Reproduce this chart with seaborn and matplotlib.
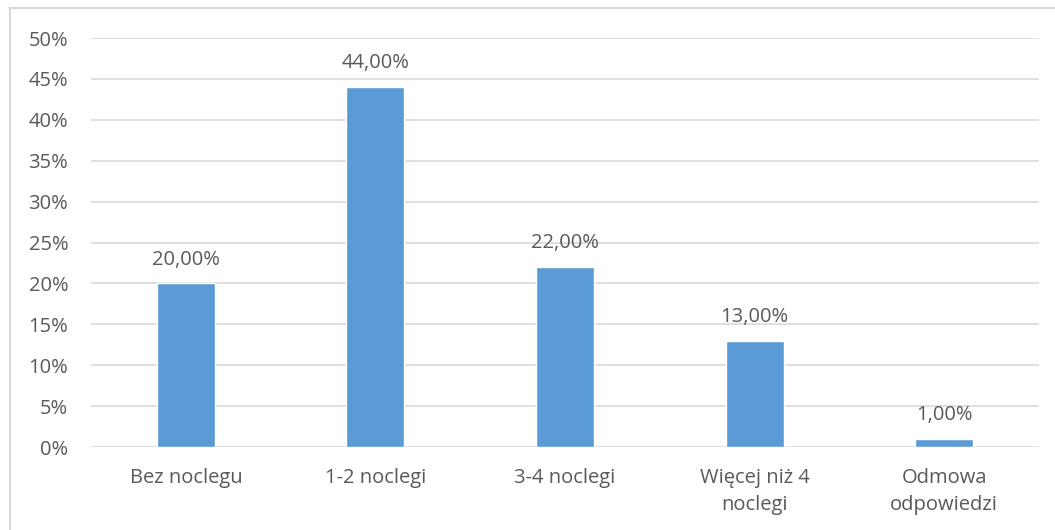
import matplotlib
matplotlib.use("Agg")
import matplotlib.pyplot as plt
import matplotlib.ticker as mticker
from matplotlib.patches import Rectangle
import seaborn as sns
import pandas as pd

categories = ["Bez noclegu", "1-2 noclegi", "3-4 noclegi", "Więcej niż 4\nnoclegi", "Odmowa\nodpowiedzi"]
values = [20.0, 44.0, 22.0, 13.0, 1.0]
value_labels = ["20,00%", "44,00%", "22,00%", "13,00%", "1,00%"]
y_ticks = [0, 5, 10, 15, 20, 25, 30, 35, 40, 45, 50]

sns.set_theme(style="white")
plt.rcParams["font.family"] = ["Open Sans", "DejaVu Sans"]

text_color = "#595959"
grid_color = "#D9D9D9"
bar_color = "#5B9BD5"
font_size = 14.5

df = pd.DataFrame({"kategoria": categories, "udzial": values})

fig = plt.figure(figsize=(10.55, 5.30), dpi=100)
ax = fig.add_axes([0.0863, 0.1566, 0.8985, 0.7717])

sns.barplot(data=df, x="kategoria", y="udzial", color=bar_color, width=0.306,
            saturation=1, ax=ax, zorder=3)

ax.set_ylim(0, 50)
ax.set_yticks(y_ticks)
ax.yaxis.set_major_formatter(mticker.FuncFormatter(lambda v, _: f"{v:.0f}%"))
ax.set_xlim(-0.5, len(categories) - 0.5)
ax.set_xlabel("")
ax.set_ylabel("")
ax.grid(axis="y", color=grid_color, linewidth=1.2, zorder=0)
for s in ax.spines.values():
    s.set_visible(False)
ax.tick_params(axis="both", length=0, colors=text_color, labelsize=font_size)
ax.tick_params(axis="y", pad=16.5)
ax.tick_params(axis="x", pad=15)
for lab in ax.get_xticklabels():
    lab.set_linespacing(1.5)

for i, (v, t) in enumerate(zip(values, value_labels)):
    ax.annotate(t, (i, v), xytext=(0, 10), textcoords="offset points",
                ha="center", va="bottom", fontsize=font_size, color=text_color)

# outer chart frame
fig.patches.append(Rectangle((10 / 1055, -0.1), 1.2, 1 - 8 / 530 + 0.1,
                             transform=fig.transFigure, fill=False,
                             edgecolor=grid_color, linewidth=1.5))

fig.savefig("out.png", dpi=100, facecolor="white")
